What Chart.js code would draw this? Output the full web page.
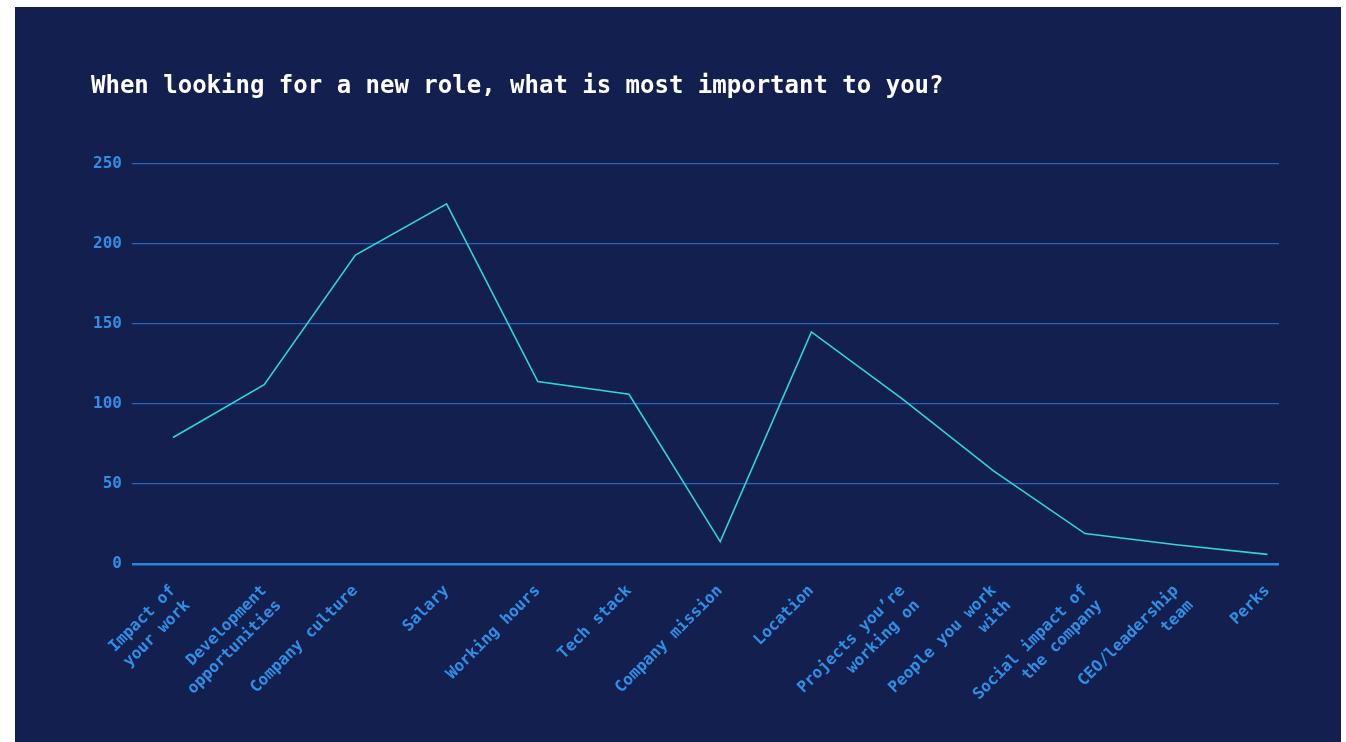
<!DOCTYPE html>
<html>
<head>
<meta charset="utf-8">
<title>Role priorities</title>
<script src="https://cdn.jsdelivr.net/npm/chart.js@4/dist/chart.umd.min.js"></script>
<style>
  body { margin: 0; background: #ffffff; }
  #box {
    position: absolute;
    left: 15px;
    top: 7px;
    width: 1326px;
    height: 735px;
    background: #13204f;
  }
</style>
</head>
<body>
<div id="box"><canvas id="grafico"></canvas></div>
<script>
// categorias (eixo x) e respostas
var categorias = [
  ["Impact of", "your work"],
  ["Development", "opportunities"],
  "Company culture",
  "Salary",
  "Working hours",
  "Tech stack",
  "Company mission",
  "Location",
  ["Projects you\u2019re", "working on"],
  ["People you work", "with"],
  ["Social impact of", "the company"],
  ["CEO/leadership", "team"],
  "Perks"
];
var respostas = [79, 112, 193, 225, 114, 106, 14, 145, 103, 58, 19, 12, 6];
var ticksY = [0, 50, 100, 150, 200, 250];

var titulo = "When looking for a new role, what is most important to you?";

var fonte = "'DejaVu Sans Mono', 'Liberation Mono', monospace";
var azul = '#2f8fe6';

// pontos x/y montados a partir dos arrays
var pontos = [];
for (var i = 0; i < respostas.length; i++) {
  pontos.push({ x: i, y: respostas[i] });
}

var ctx = document.getElementById('grafico');
var chartGraph = new Chart(ctx, {
  type: 'line',
  data: {
    datasets: [{
      label: 'Respostas',
      data: pontos,
      borderColor: '#2fd8cd',
      borderWidth: 1.6,
      backgroundColor: 'transparent',
      pointRadius: 0,
      pointHoverRadius: 0,
      tension: 0
    }]
  },
  options: {
    responsive: true,
    maintainAspectRatio: false,
    animation: false,
    layout: { padding: { left: 76, right: 62, top: 40, bottom: 0 } },
    plugins: {
      legend: { display: false },
      tooltip: { enabled: false },
      title: {
        display: true,
        text: titulo,
        align: 'start',
        color: '#ffffff',
        font: { family: fonte, size: 24, weight: 'bold' },
        padding: { top: 25, bottom: 63 }
      }
    },
    scales: {
      x: {
        type: 'linear',
        min: -0.4496,
        max: 12.127,
        grid: { display: false },
        border: { display: false },
        afterBuildTicks: function (s) {
          s.ticks = categorias.map(function (_, i) { return { value: i }; });
        },
        afterFit: function (s) {
          // os rótulos inclinados não devem empurrar a área do gráfico
          s.height = 178;
          s.paddingLeft = 0;
          s.paddingRight = 0;
        },
        ticks: {
          autoSkip: false,
          minRotation: 45,
          maxRotation: 45,
          padding: 9,
          color: azul,
          font: { family: fonte, size: 16, weight: 'bold', lineHeight: 1.3 },
          callback: function (v) { return categorias[v]; }
        }
      },
      y: {
        min: 0,
        max: 250,
        border: { display: false },
        afterBuildTicks: function (s) {
          s.ticks = ticksY.map(function (v) { return { value: v }; });
        },
        afterFit: function (s) { s.width = 41; },
        grid: {
          drawTicks: false,
          color: function (c) { return c.tick && c.tick.value === 0 ? '#2b84de' : '#2566c4'; },
          lineWidth: function (c) { return c.tick && c.tick.value === 0 ? 2.5 : 1.2; }
        },
        ticks: {
          padding: 10,
          color: azul,
          font: { family: fonte, size: 16, weight: 'bold' }
        }
      }
    }
  }
});
</script>
</body>
</html>
